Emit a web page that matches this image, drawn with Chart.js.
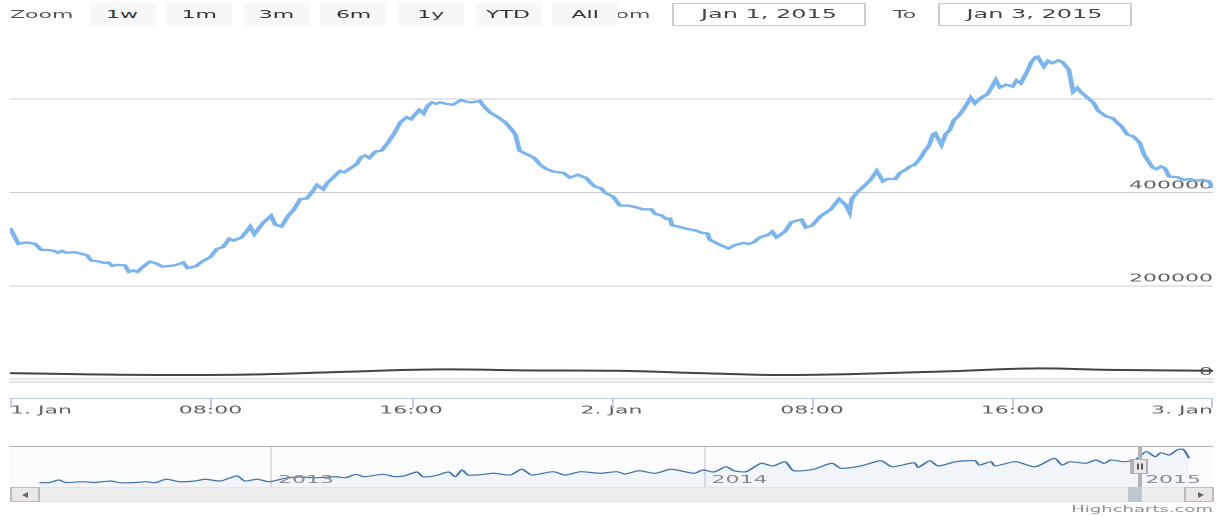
<!DOCTYPE html>
<html>
<head>
<meta charset="utf-8">
<script src="https://cdn.jsdelivr.net/npm/chart.js@4.4.1/dist/chart.umd.min.js"></script>
<style>
html, body { margin: 0; padding: 0; background: #fff; overflow: hidden; }
body { width: 1216px; height: 516px; position: relative; }
/* the reference is a narrow chart stretched to twice its width */
#stage { position: absolute; left: 0; top: 0; width: 608px; height: 516px; transform: scaleX(2); transform-origin: 0 0; font-family: "DejaVu Sans", sans-serif; }
.lbl { position: absolute; top: 3px; height: 23px; line-height: 23px; font-size: 11px; color: #555; }
.btn { position: absolute; top: 3px; height: 23px; line-height: 23px; width: 33px; background: #f7f7f7; color: #333; font-size: 11px; text-align: center; z-index: 2; }
.box { position: absolute; top: 3px; height: 23px; line-height: 21px; box-sizing: border-box; border: 1px solid #cccccc; background: #fff; font-size: 12px; color: #444; text-align: center; }
.chartBox { position: absolute; left: 0; width: 608px; }
#mainBox { top: 40px; height: 390px; }
#navBox { top: 440px; height: 50px; }
#track { position: absolute; left: 4.5px; top: 487px; width: 602px; height: 15px; background: #eeeeee; box-sizing: border-box; border: 1px solid #e4e4e4; }
.arrowBtn { position: absolute; top: 487px; width: 15px; height: 15px; box-sizing: border-box; background: #ebe7e8; border: 1px solid #bbbbbb; }
.arrowBtn span { position: absolute; top: 4px; width: 0; height: 0; border-top: 3px solid transparent; border-bottom: 3px solid transparent; }
#thumb { position: absolute; left: 564px; top: 487px; width: 7px; height: 15px; background: #bfc8d1; }
#credits { position: absolute; right: 1.5px; top: 504px; font-size: 9px; line-height: 11px; color: #909090; }
</style>
</head>
<body>
<div id="stage">
  <div class="lbl" style="left:5px">Zoom</div>
  <div class="btn" style="left:44.5px">1w</div>
  <div class="btn" style="left:83.1px">1m</div>
  <div class="btn" style="left:121.7px">3m</div>
  <div class="btn" style="left:160.3px">6m</div>
  <div class="btn" style="left:198.9px">1y</div>
  <div class="btn" style="left:237.5px">YTD</div>
  <div class="btn" style="left:276.1px">All</div>
  <div class="lbl" style="left:298px">From</div>
  <div class="box" style="left:336px;width:97px">Jan 1, 2015</div>
  <div class="lbl" style="left:446.5px">To</div>
  <div class="box" style="left:468.5px;width:97.5px">Jan 3, 2015</div>

  <div class="chartBox" id="mainBox"><canvas id="mainChart"></canvas></div>
  <div class="chartBox" id="navBox"><canvas id="navChart"></canvas></div>

  <div id="track"></div>
  <div class="arrowBtn" style="left:4.5px"><span style="left:5px;border-right:3px solid #666"></span></div>
  <div class="arrowBtn" style="left:591.5px"><span style="left:6px;border-left:3px solid #666"></span></div>
  <div id="thumb"></div>
  <div id="credits">Highcharts.com</div>
</div>

<script>
// main series, minutes after 1 Jan 2015 00:00
const mainMinutes = [0, 20, 40, 60, 75, 90, 105, 115, 125, 135, 155, 170, 185, 195, 215, 225, 235, 245, 255, 275,
    285, 295, 305, 320, 335, 350, 365, 395, 415, 425, 445, 460, 480, 495, 510, 525, 535, 555, 575, 585,
    605, 625, 635, 650, 665, 680, 695, 710, 720, 735, 750, 760, 775, 790, 800, 815, 830, 840, 850, 860,
    875, 890, 905, 920, 935, 950, 960, 980, 990, 1000, 1010, 1020, 1030, 1045, 1060, 1080, 1095, 1105, 1125, 1135,
    1150, 1165, 1185, 1200, 1210, 1220, 1240, 1255, 1270, 1285, 1300, 1325, 1340, 1360, 1380, 1390, 1400, 1415, 1425, 1440,
    1445, 1460, 1480, 1500, 1515, 1535, 1545, 1560, 1570, 1580, 1585, 1600, 1620, 1640, 1655, 1670, 1675, 1695, 1720, 1735,
    1755, 1770, 1780, 1795, 1815, 1825, 1835, 1855, 1870, 1885, 1895, 1905, 1920, 1940, 1965, 1985, 2000, 2010, 2015, 2030,
    2045, 2060, 2075, 2090, 2100, 2120, 2130, 2145, 2155, 2165, 2180, 2190, 2200, 2210, 2215, 2230, 2240, 2250, 2260, 2270,
    2285, 2300, 2310, 2325, 2340, 2350, 2360, 2370, 2385, 2400, 2410, 2420, 2435, 2445, 2455, 2460, 2475, 2485, 2495, 2510,
    2520, 2535, 2545, 2555, 2565, 2580, 2595, 2605, 2625, 2640, 2655, 2660, 2675, 2690, 2705, 2715, 2735, 2745, 2755, 2765,
    2775, 2795, 2810, 2825, 2840, 2855, 2870, 2880];
const mainValues = [324000, 290000, 293000, 290000, 277000, 277000, 275000, 271000, 275000, 271000, 272000, 269000, 265000, 254000, 252000, 249000, 250000, 243000, 245000, 244000,
    230000, 233000, 230000, 242000, 252000, 248000, 241000, 244000, 250000, 238000, 242000, 252000, 262000, 279000, 283000, 301000, 297000, 304000, 327000, 311000,
    334000, 350000, 331000, 327000, 349000, 364000, 386000, 387000, 397000, 416000, 407000, 421000, 433000, 446000, 443000, 452000, 461000, 475000, 479000, 474000,
    488000, 490000, 507000, 527000, 551000, 561000, 557000, 577000, 569000, 586000, 593000, 590000, 593000, 590000, 588000, 598000, 594000, 593000, 596000, 584000,
    571000, 563000, 551000, 536000, 524000, 489000, 481000, 474000, 459000, 450000, 445000, 442000, 432000, 438000, 431000, 421000, 413000, 409000, 399000, 393000,
    390000, 372000, 372000, 368000, 364000, 364000, 354000, 351000, 344000, 344000, 330000, 327000, 322000, 319000, 314000, 312000, 299000, 290000, 280000, 287000,
    292000, 290000, 293000, 304000, 309000, 316000, 304000, 316000, 336000, 340000, 342000, 325000, 329000, 349000, 364000, 386000, 374000, 357000, 386000, 402000,
    414000, 427000, 446000, 424000, 429000, 429000, 442000, 449000, 456000, 459000, 474000, 489000, 500000, 525000, 527000, 502000, 525000, 534000, 556000, 563000,
    581000, 603000, 591000, 603000, 611000, 625000, 641000, 625000, 631000, 627000, 640000, 634000, 659000, 679000, 690000, 691000, 670000, 682000, 677000, 683000,
    679000, 663000, 616000, 624000, 614000, 603000, 591000, 575000, 563000, 559000, 546000, 543000, 524000, 520000, 506000, 481000, 454000, 450000, 456000, 452000,
    434000, 433000, 427000, 429000, 425000, 427000, 424000, 410000];

// second, low series
const secondMinutes = [0, 218, 396, 577, 768, 1029, 1223, 1455, 1653, 1829, 2012, 2251, 2447, 2634, 2880];
const secondValues = [13000, 10000, 9000, 10000, 15000, 21000, 19000, 18000, 13000, 9000, 11000, 17000, 23000, 20000, 18000];

const xTickMinutes = [0, 480, 960, 1440, 1920, 2400, 2880];
const xTickLabels = ['1. Jan', '08:00', '16:00', '2. Jan', '08:00', '16:00', '3. Jan'];
const yTickValues = [0, 200000, 400000, 600000];
const yTickLabels = ['0', '200000', '400000', ''];   // top label is not shown

// navigator, whole history
const navYears = [2012.468, 2012.492, 2012.513, 2012.529, 2012.569, 2012.596, 2012.633, 2012.654, 2012.689, 2012.714,
    2012.735, 2012.760, 2012.792, 2012.827, 2012.851, 2012.885, 2012.924, 2012.942, 2012.970, 2012.998,
    2013.034, 2013.069, 2013.106, 2013.152, 2013.175, 2013.198, 2013.217, 2013.261, 2013.288, 2013.311,
    2013.339, 2013.353, 2013.381, 2013.412, 2013.427, 2013.443, 2013.457, 2013.484, 2013.517, 2013.554,
    2013.581, 2013.604, 2013.653, 2013.681, 2013.717, 2013.761, 2013.800, 2013.819, 2013.851, 2013.888,
    2013.925, 2013.978, 2013.999, 2014.024, 2014.052, 2014.070, 2014.098, 2014.133, 2014.160, 2014.188,
    2014.208, 2014.253, 2014.296, 2014.317, 2014.363, 2014.409, 2014.435, 2014.486, 2014.495, 2014.522,
    2014.541, 2014.582, 2014.626, 2014.636, 2014.663, 2014.672, 2014.719, 2014.765, 2014.809, 2014.827,
    2014.845, 2014.882, 2014.905, 2014.924, 2014.940, 2014.967, 2014.995, 2015.021, 2015.042, 2015.055,
    2015.074, 2015.092, 2015.106, 2015.120];
const navValues = [75000, 79000, 123000, 79000, 93000, 79000, 105000, 75000, 79000, 93000,
    75000, 135000, 93000, 105000, 135000, 105000, 193000, 105000, 135000, 93000,
    152000, 175000, 163000, 180000, 163000, 222000, 180000, 222000, 180000, 198000,
    263000, 180000, 198000, 263000, 180000, 298000, 210000, 215000, 240000, 210000,
    310000, 210000, 268000, 210000, 268000, 240000, 268000, 228000, 285000, 240000,
    310000, 240000, 298000, 263000, 355000, 285000, 268000, 415000, 368000, 443000,
    285000, 310000, 415000, 327000, 368000, 460000, 355000, 425000, 345000, 460000,
    368000, 443000, 460000, 385000, 443000, 368000, 443000, 355000, 502000, 385000,
    443000, 415000, 473000, 415000, 473000, 443000, 473000, 618000, 530000, 600000,
    560000, 648000, 660000, 502000];
const navTickYears = [2013, 2014, 2015];
const navWindow = [2015.0, 2015.0055];

Chart.defaults.font.family = '"DejaVu Sans", sans-serif';

const xAxisLine = {
    id: 'xAxisLine',
    afterDraw(chart) {
        const { ctx, chartArea, scales: { x } } = chart;
        const y0 = chartArea.bottom + 16;
        ctx.save();
        ctx.strokeStyle = '#c0d0e0';
        ctx.lineWidth = 1;
        ctx.beginPath();
        ctx.moveTo(chartArea.left, y0 + 0.5);
        ctx.lineTo(chartArea.right, y0 + 0.5);
        xTickMinutes.forEach(m => {
            let px = Math.round(x.getPixelForValue(m)) + 0.5;
            if (px > chartArea.right) px = chartArea.right - 0.5;
            ctx.moveTo(px, y0);
            ctx.lineTo(px, y0 + 10);
        });
        ctx.stroke();
        ctx.restore();
    }
};

new Chart(document.getElementById('mainChart'), {
    type: 'line',
    data: {
        datasets: [
            {
                data: mainMinutes.map((m, i) => ({ x: m, y: mainValues[i] })),
                borderColor: '#7cb5ec',
                borderWidth: 2.4,
                pointRadius: 0,
                tension: 0
            },
            {
                data: secondMinutes.map((m, i) => ({ x: m, y: secondValues[i] })),
                borderColor: '#434348',
                borderWidth: 2,
                pointRadius: 0,
                tension: 0.4
            }
        ]
    },
    options: {
        responsive: true,
        maintainAspectRatio: false,
        devicePixelRatio: 2,
        animation: false,
        events: [],
        layout: { padding: { left: 5, right: 1.5, top: 5, bottom: 0 } },
        plugins: { legend: { display: false }, tooltip: { enabled: false } },
        scales: {
            x: {
                type: 'linear',
                min: 0,
                max: 2880,
                afterBuildTicks: s => { s.ticks = xTickMinutes.map(v => ({ value: v })); },
                afterFit: s => { s.height = 48; s.paddingLeft = 0; s.paddingRight = 0; },
                grid: { drawOnChartArea: false, drawTicks: false },
                border: { display: true, color: '#cccccc' },
                ticks: {
                    padding: 22,
                    align: 'inner',
                    maxRotation: 0,
                    autoSkip: false,
                    color: '#606060',
                    font: { size: 11 },
                    callback: (v, i) => xTickLabels[i]
                }
            },
            y: {
                position: 'right',
                min: -6000,
                max: 716000,
                afterBuildTicks: s => { s.ticks = yTickValues.map(v => ({ value: v })); },
                afterFit: s => { s.width = 0; s.paddingTop = 0; s.paddingBottom = 0; },
                grid: { color: '#cccccc', drawTicks: false },
                border: { display: false },
                ticks: {
                    mirror: true,
                    padding: 0,
                    labelOffset: -7,
                    color: '#606060',
                    font: { size: 11 },
                    callback: (v, i) => yTickLabels[i]
                }
            }
        }
    },
    plugins: [xAxisLine]
});

// navigator decorations: grid, outline, mask, year labels, handles
const navDecor = {
    id: 'navDecor',
    beforeDatasetsDraw(chart) {
        const { ctx, chartArea, scales: { x } } = chart;
        ctx.save();
        ctx.strokeStyle = '#e0e0e0';
        ctx.lineWidth = 1;
        ctx.beginPath();
        navTickYears.forEach(yr => {
            const px = Math.round(x.getPixelForValue(yr)) + 0.5;
            ctx.moveTo(px, chartArea.top);
            ctx.lineTo(px, chartArea.bottom);
        });
        ctx.stroke();
        ctx.restore();
    },
    afterDatasetsDraw(chart) {
        const { ctx, chartArea, scales: { x } } = chart;
        ctx.save();
        ctx.fillStyle = 'rgba(128,179,236,0.04)';
        ctx.fillRect(chartArea.left, chartArea.top, chartArea.right - chartArea.left, chartArea.bottom - chartArea.top);

        ctx.strokeStyle = '#b2b1b6';
        ctx.lineWidth = 1;
        ctx.beginPath();
        ctx.moveTo(chartArea.left, chartArea.top + 0.5);
        ctx.lineTo(chartArea.right, chartArea.top + 0.5);
        navWindow.forEach(yr => {
            const px = Math.round(x.getPixelForValue(yr)) + 0.5;
            ctx.moveTo(px, chartArea.top);
            ctx.lineTo(px, chartArea.bottom);
        });
        ctx.stroke();

        ctx.fillStyle = '#888888';
        ctx.font = '11px "DejaVu Sans", sans-serif';
        ctx.textBaseline = 'alphabetic';
        ctx.textAlign = 'left';
        navTickYears.forEach(yr => {
            ctx.fillText(String(yr), x.getPixelForValue(yr) + 4, chartArea.top + 37);
        });

        const mid = (chartArea.top + chartArea.bottom) / 2;
        navWindow.forEach(yr => {
            const px = Math.round(x.getPixelForValue(yr));
            ctx.fillStyle = '#ebe7e8';
            ctx.strokeStyle = '#b2b1b6';
            ctx.fillRect(px - 4, mid - 7.5, 8, 15);
            ctx.strokeRect(px - 3.5, mid - 7, 7, 14);
            ctx.strokeStyle = '#555555';
            ctx.beginPath();
            ctx.moveTo(px - 1, mid - 3); ctx.lineTo(px - 1, mid + 3);
            ctx.moveTo(px + 1, mid - 3); ctx.lineTo(px + 1, mid + 3);
            ctx.stroke();
        });
        ctx.restore();
    }
};

new Chart(document.getElementById('navChart'), {
    type: 'line',
    data: {
        datasets: [{
            data: navYears.map((yr, i) => ({ x: yr, y: navValues[i] })),
            borderColor: '#4572a7',
            borderWidth: 1.2,
            backgroundColor: 'rgba(69,114,167,0.05)',
            fill: 'start',
            pointRadius: 0,
            tension: 0.25
        }]
    },
    options: {
        responsive: true,
        maintainAspectRatio: false,
        devicePixelRatio: 2,
        animation: false,
        events: [],
        layout: { padding: { left: 4.5, right: 1.5, top: 6, bottom: 3 } },
        plugins: { legend: { display: false }, tooltip: { enabled: false } },
        scales: {
            x: { type: 'linear', min: 2012.398, max: 2015.175, display: false },
            y: { min: 0, max: 717500, display: false }
        }
    },
    plugins: [navDecor]
});
</script>
</body>
</html>
